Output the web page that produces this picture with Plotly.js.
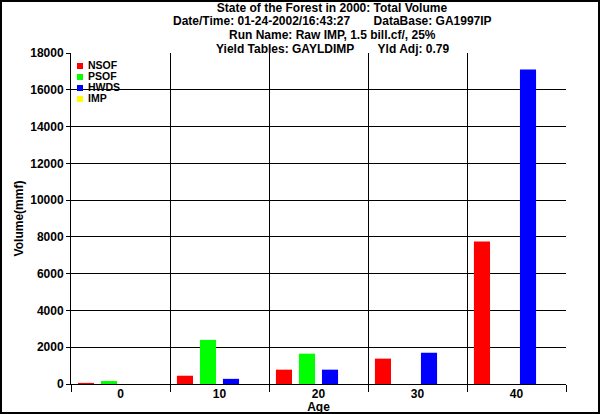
<!DOCTYPE html>
<html><head><meta charset="utf-8">
<script src="https://cdn.plot.ly/plotly-3.0.1.min.js"></script>
<style>html,body{margin:0;padding:0;background:#fff}#chart{width:600px;height:414px}</style>
</head><body><div id="chart"></div>
<script>
var ages = ["0", "10", "20", "30", "40"];
var seriesNames = ["NSOF", "PSOF", "HWDS", "IMP"];
var seriesColors = ["#ff0000", "#00ff00", "#0000ff", "#ffff00"];
var NSOF = [60, 450, 780, 1380, 7750];
var PSOF = [160, 2400, 1650, 0, 0];
var HWDS = [0, 280, 780, 1700, 17100];
var IMP = [0, 0, 0, 0, 0];
var titleLines = [
  "State of the Forest in 2000: Total Volume",
  "Date/Time: 01-24-2002/16:43:27\u00a0\u00a0\u00a0\u00a0\u00a0\u00a0\u00a0DataBase: GA1997IP",
  "Run Name: Raw IMP, 1.5 bill.cf/, 25%",
  "Yield Tables: GAYLDIMP\u00a0\u00a0\u00a0\u00a0\u00a0\u00a0\u00a0Yld Adj: 0.79"
];
var values = [NSOF, PSOF, HWDS, IMP];

var FONT = "Liberation Sans, Arial, sans-serif";
var traces = values.map(function (v, i) {
  return {type: "bar", x: ages, y: v, name: seriesNames[i],
          marker: {color: seriesColors[i], line: {width: 0}}, showlegend: false};
});

var W = 600, H = 414, L = 71, R = 34, T = 53, B = 30;
var pw = W - L - R, ph = H - T - B;
function px2x(p) { return (p - L) / pw; }
function py2y(p) { return (H - B - p) / ph; }

var annotations = [];
var shapes = [];
for (var k = 1; k < titleLines.length; k++) {
  annotations.push({text: titleLines[k], xref: "paper", yref: "paper",
    x: px2x(332), y: py2y(8 + k * 13.5), xanchor: "center", yanchor: "middle",
    showarrow: false, font: {family: FONT, size: 12, color: "#000", weight: "bold"}});
}
for (var i = 0; i < seriesNames.length; i++) {
  var cy = 65 + i * 11;
  annotations.push({text: seriesNames[i], xref: "paper", yref: "paper",
    x: px2x(87), y: py2y(cy), xanchor: "left", yanchor: "middle", showarrow: false,
    borderpad: 0,
    font: {family: FONT, size: 10.5, color: "#000", weight: "bold"}});
  shapes.push({type: "rect", xref: "paper", yref: "paper",
    xsizemode: "pixel", ysizemode: "pixel", xanchor: px2x(80), yanchor: py2y(cy + 1),
    x0: -3, x1: 3, y0: -3, y1: 3, fillcolor: seriesColors[i], line: {width: 0}});
}
shapes.push({type: "rect", xref: "paper", yref: "paper",
  x0: px2x(1), x1: px2x(599), y0: py2y(1), y1: py2y(413),
  line: {color: "#000", width: 2}, fillcolor: "rgba(0,0,0,0)"});

var layout = {
  width: W, height: H,
  margin: {l: L, r: R, t: T, b: B, pad: 0},
  paper_bgcolor: "#fff", plot_bgcolor: "#fff",
  font: {family: FONT, size: 12, color: "#000", weight: "bold"},
  title: {text: titleLines[0], x: 332 / W, xref: "container", xanchor: "center",
          y: 1 - 8 / H, yref: "container", yanchor: "middle",
          font: {family: FONT, size: 12, color: "#000", weight: "bold"}},
  barmode: "group", bargap: 0.07, bargroupgap: 0.3,
  showlegend: false,
  xaxis: {type: "category", tickson: "boundaries", ticks: "outside", ticklen: 7,
          tickcolor: "#000", tickwidth: 1, showgrid: true, gridcolor: "#000", gridwidth: 1,
          showline: true, linecolor: "#000", linewidth: 1, mirror: false,
          zeroline: false, ticklabelstandoff: -1,
          tickfont: {family: FONT, size: 12, color: "#000", weight: "bold"},
          title: {text: "Age", standoff: -2, font: {family: FONT, size: 12, color: "#000", weight: "bold"}}},
  yaxis: {range: [0, 18000], dtick: 2000, tick0: 0, tickformat: "d", ticks: "outside", ticklen: 4,
          tickcolor: "#000", showgrid: true, gridcolor: "#000", gridwidth: 1,
          showline: true, linecolor: "#000", linewidth: 1, zeroline: false,
          tickfont: {family: FONT, size: 12, color: "#000", weight: "bold"},
          title: {text: "Volume(mmf)", standoff: 4, font: {family: FONT, size: 12, color: "#000", weight: "bold"}}},
  annotations: annotations, shapes: shapes
};
Plotly.newPlot("chart", traces, layout, {displayModeBar: false, staticPlot: true});
</script></body></html>
